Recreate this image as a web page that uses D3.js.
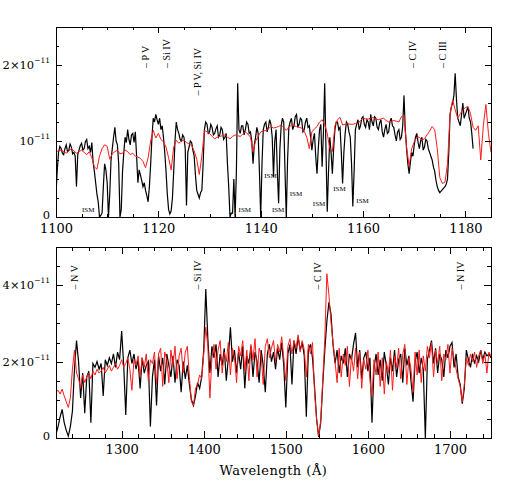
<!DOCTYPE html>
<html>
<head>
<meta charset="utf-8">
<script src="https://cdn.jsdelivr.net/npm/d3@7"></script>
<style>
  body { margin: 0; background: #fff; }
  svg { display: block; }
</style>
</head>
<body>
<div id="chart"></div>
<script>
// fluxes are in units of 1e-11, wavelengths in Angstrom
const topObsStart = 1100, topObsStep = 0.25
const topObs = [
  0.30,0.62,0.85,0.93,0.90,0.84,0.82,0.90,0.95,0.86,0.88,0.96,0.92,0.83,0.85,0.80,0.40,0.82,0.88,0.94,
  0.97,0.88,0.90,0.99,1.02,0.90,0.93,0.85,0.98,0.72,0.60,0.45,0.30,0.20,0.00,0.02,0.05,0.40,0.70,0.62,
  0.45,0.00,0.30,0.75,0.90,1.05,1.18,1.00,0.95,0.70,0.00,0.10,0.60,0.85,1.05,0.98,1.15,1.02,0.95,1.08,
  1.10,0.98,1.12,0.80,0.45,0.62,0.55,0.48,0.40,0.45,0.35,0.28,0.20,0.40,0.70,1.05,1.30,1.25,1.35,1.28,
  1.22,1.30,1.15,1.20,1.05,0.85,0.60,0.30,0.10,0.04,0.08,0.25,0.60,1.00,1.25,1.15,1.10,1.02,1.00,1.08,
  1.05,0.90,0.15,0.85,0.92,1.00,0.98,0.88,0.80,0.55,0.35,0.30,0.25,0.32,0.35,0.70,1.15,1.25,1.22,1.10,
  1.12,1.22,1.18,1.08,1.10,1.16,1.20,1.05,1.08,1.18,1.15,1.02,1.05,1.10,0.70,0.40,0.00,0.05,0.05,0.50,
  0.00,0.60,1.76,1.15,1.10,1.20,1.20,1.08,1.15,1.25,1.22,1.10,1.12,1.00,0.70,0.95,1.05,1.18,1.10,0.60,
  0.00,0.70,1.15,1.22,1.25,1.12,1.18,1.28,1.22,1.05,0.53,1.00,1.15,0.60,0.18,0.90,1.20,1.30,1.25,0.60,
  0.00,0.75,1.18,1.25,1.30,1.15,1.20,1.32,1.35,1.18,1.22,1.30,1.28,1.12,1.15,1.25,1.30,1.18,1.20,1.05,
  0.88,1.02,1.10,0.80,0.57,0.90,1.15,1.22,0.66,1.10,1.76,0.90,0.07,0.60,1.05,0.85,0.57,0.90,1.15,1.25,
  1.25,1.15,1.18,0.85,0.44,0.85,1.10,1.25,1.22,1.12,1.05,0.70,0.14,0.60,1.15,1.22,1.28,1.15,1.20,1.30,
  1.32,1.22,1.18,1.28,1.25,1.15,1.35,1.25,1.20,1.32,1.30,1.18,1.15,1.24,1.28,1.12,1.05,1.15,1.22,1.10,
  1.12,1.25,1.30,1.20,1.18,1.08,1.00,1.12,1.15,1.02,1.05,1.20,1.60,1.15,0.90,0.70,0.57,0.72,0.85,0.80,
  0.95,1.05,1.10,0.98,0.90,1.00,1.05,0.88,0.92,1.02,1.00,0.90,0.85,0.80,0.75,0.66,0.60,0.48,0.40,0.35,
  0.32,0.34,0.36,0.38,0.40,0.43,0.50,0.85,1.35,1.45,1.50,1.60,1.89,1.55,1.30,1.25,1.20,1.35,1.50,1.30,
  1.35,1.40,1.45,1.30,1.25,1.10,0.90
]
const topModelStart = 1100, topModelStep = 0.5
const topModel = [
  0.86,0.87,0.88,0.86,0.84,0.87,0.90,0.87,0.84,0.86,
  0.88,0.85,0.82,0.86,0.78,0.66,0.63,0.80,0.90,0.95,
  0.93,0.76,0.83,0.86,0.88,0.83,0.84,0.88,0.86,0.82,
  0.84,0.80,0.79,0.77,0.73,0.65,0.78,1.00,1.14,1.04,
  1.10,1.02,0.99,0.92,0.78,0.62,0.92,1.01,0.97,1.00,
  1.01,0.98,0.96,0.94,0.87,0.76,0.56,0.80,1.14,1.12,
  1.10,1.06,1.03,1.05,1.06,1.07,1.08,1.05,1.03,1.06,
  1.08,1.07,1.06,1.09,1.12,1.09,1.05,0.86,1.00,1.06,
  1.12,1.13,1.14,1.16,1.19,1.17,1.18,1.19,1.21,1.18,
  1.14,1.18,1.21,1.20,1.19,1.18,1.17,1.13,1.05,0.90,
  1.12,1.16,1.19,1.25,1.28,1.22,1.10,0.90,0.86,1.20,
  1.28,1.31,1.21,1.22,1.23,1.22,1.22,1.23,1.23,1.27,
  1.30,1.29,1.29,1.30,1.31,1.29,1.28,1.29,1.30,1.27,
  1.25,1.26,1.27,1.26,1.25,1.32,1.34,0.92,0.67,0.90,
  0.99,1.05,1.05,1.01,1.03,1.08,1.13,1.19,1.15,0.90,
  0.52,0.44,0.46,0.70,1.35,1.54,1.41,1.30,1.36,1.41,
  1.44,1.45,1.36,1.18,1.14,1.20,0.75,1.20,1.48,1.10,
  0.85
]

const botStart = 1220, botStep = 2.5
const botObs = [
  0.10,0.30,0.55,0.75,0.40,0.20,0.05,0.30,0.70,1.80,
  2.55,2.00,1.05,1.70,0.65,1.60,1.75,0.40,1.95,1.85,
  2.00,1.80,1.95,1.10,2.05,1.90,2.10,1.95,2.20,1.85,
  2.25,2.05,2.80,1.90,0.60,2.10,2.30,1.95,2.20,1.80,
  2.05,1.30,2.10,1.70,1.90,2.00,0.30,1.60,2.05,0.85,
  2.15,1.75,2.10,1.40,2.20,1.90,1.60,2.15,1.45,2.05,
  1.90,1.20,2.00,1.55,1.90,1.40,1.00,0.85,1.10,1.45,
  1.30,1.60,2.30,3.90,2.60,1.70,2.40,2.10,2.45,1.60,
  2.20,1.90,2.35,1.50,2.10,2.90,2.00,2.30,1.70,2.25,
  1.80,2.40,1.30,2.15,1.95,2.40,1.60,2.25,2.00,1.45,
  2.30,1.90,1.20,2.20,2.45,2.00,2.25,1.80,2.35,2.05,
  2.50,1.90,0.80,2.20,2.45,1.40,2.55,2.20,2.65,2.30,
  2.50,2.15,0.56,2.30,2.45,2.10,1.35,0.50,0.03,0.40,
  1.40,2.30,3.05,3.55,3.25,2.45,1.95,2.30,1.70,2.15,
  1.95,2.35,1.60,2.20,2.05,2.45,2.75,1.85,2.30,1.55,
  2.10,2.25,1.75,2.10,0.40,1.85,2.20,1.65,2.05,1.50,
  2.25,1.90,1.40,2.10,1.75,2.30,1.60,2.05,2.20,1.45,
  2.35,1.90,2.15,1.50,0.95,2.00,2.25,1.70,2.10,1.80,
  0.00,2.05,2.30,2.55,1.95,2.35,1.70,2.20,2.05,1.60,
  2.30,2.10,2.40,2.50,1.85,2.20,1.60,1.40,0.90,1.30,
  2.30,2.05,1.85,2.20,1.95,2.15,2.00,2.30,2.05,2.25,
  2.15,2.20,2.10
]
const botModel = [
  1.20,1.25,1.15,1.28,1.10,0.95,0.80,1.05,1.80,2.30,
  1.70,1.55,1.30,1.65,1.45,1.60,1.70,1.55,1.75,1.65,
  1.80,1.70,1.75,1.85,1.70,1.80,1.90,1.75,1.85,1.95,
  1.80,1.90,2.05,1.85,1.95,2.10,1.80,1.25,2.05,1.90,
  2.15,1.60,2.10,1.85,2.20,1.50,2.05,1.95,2.25,1.40,
  2.20,2.35,1.35,2.25,2.05,1.45,2.30,1.90,2.40,1.55,
  2.15,2.35,1.70,2.25,2.40,1.60,0.95,0.85,1.30,1.40,
  1.65,1.55,2.20,2.90,2.40,1.05,2.10,2.45,1.80,2.30,
  2.55,1.70,2.25,2.00,2.50,1.65,2.35,2.10,1.45,2.40,
  2.15,2.55,1.75,2.30,1.50,2.45,2.05,2.60,1.60,2.35,
  2.15,1.40,2.40,2.60,2.10,2.35,2.55,2.00,2.45,2.25,
  2.65,2.10,1.50,2.40,2.60,2.20,2.55,2.35,2.70,2.25,
  2.55,2.30,1.60,2.45,2.20,2.50,1.20,0.50,0.05,0.45,
  1.50,2.60,4.30,3.75,3.05,2.50,2.00,1.45,2.35,1.60,
  2.20,1.90,2.40,1.35,2.15,1.75,2.35,1.55,2.25,1.30,
  2.05,1.80,2.30,1.50,1.10,2.05,1.65,2.25,1.35,2.10,
  1.15,2.00,1.70,2.30,1.25,2.15,1.85,2.35,1.55,2.20,
  2.45,1.40,2.10,1.80,1.20,2.25,1.65,2.30,1.45,2.15,
  1.75,2.40,2.10,2.50,1.60,2.30,1.95,2.40,1.50,2.20,
  2.05,2.45,1.70,2.35,2.10,1.80,1.55,1.35,0.95,1.40,
  2.10,1.90,2.20,2.00,2.25,1.85,2.15,2.30,1.95,2.20,
  1.70,2.25,2.15
]

// axis ticks
const topXTicks = [1100, 1120, 1140, 1160, 1180]
const topXMinor = d3.range(1100, 1186, 5)
const topYTicks = [0, 1, 2]
const topYMinor = d3.range(0, 2.51, 0.25)
const botXTicks = [1300, 1400, 1500, 1600, 1700]
const botXMinor = d3.range(1220, 1751, 20)
const botYTicks = [0, 2, 4]
const botYMinor = d3.range(0, 5.01, 0.5)

// line identifications: [label, wavelength, flux at foot of label]
const topIons = [["– P V", 1117.4, 1.96], ["– Si IV", 1121.5, 1.96], ["– P V, Si IV", 1127.7, 1.60],
                 ["– C IV", 1169.7, 1.96], ["– C III", 1175.6, 1.96]]
const topISM = [[1106.3, 0.07], [1136.9, 0.07], [1141.9, 0.51], [1143.4, 0.07],
                [1146.9, 0.28], [1151.4, 0.14], [1155.4, 0.34], [1159.9, 0.18]]
const botIons = [["– N V", 1242.5, 3.89], ["– Si IV", 1392.0, 3.89], ["– C IV", 1538.7, 3.89], ["– N IV", 1713.4, 3.89]]

const svg = d3.select("#chart").append("svg")
  .attr("width", 518).attr("height", 491)
  .style("font-family", "'DejaVu Serif', serif")

function yLabel(sel, v) {
  sel.text(null)
  if (v === 0) { sel.text("0"); return }
  sel.append("tspan").text(v === 1 ? "10" : v + "×10")
  sel.append("tspan").attr("font-size", 7.5).attr("dy", -6).text("−11")
}

function panel(cfg, idx) {
  const x = d3.scaleLinear().domain(cfg.xDomain).range([56, 491])
  const y = d3.scaleLinear().domain(cfg.yDomain).range([cfg.bottom, cfg.top])
  const g = svg.append("g")

  g.append("clipPath").attr("id", "clip" + idx)
    .append("rect").attr("x", 56).attr("y", cfg.top).attr("width", 435).attr("height", cfg.bottom - cfg.top)

  const lineFor = (start, step) => d3.line()
    .x((d, i) => x(start + i * step))
    .y(d => y(d))

  const plot = g.append("g").attr("clip-path", `url(#clip${idx})`)
  plot.append("path").datum(cfg.obs)
    .attr("d", lineFor(cfg.obsStart, cfg.obsStep))
    .attr("fill", "none").attr("stroke", "#000").attr("stroke-width", 1.2)
  plot.append("path").datum(cfg.model)
    .attr("d", lineFor(cfg.modelStart, cfg.modelStep))
    .attr("fill", "none").attr("stroke", "#ff1a1a").attr("stroke-width", 1)

  // axes, ticks pointing inward on all four sides
  const ax = (a, tx, ty) => {
    const s = g.append("g").attr("transform", `translate(${tx},${ty})`).call(a)
    s.select(".domain").remove()
    s.selectAll("line").attr("stroke", "#000").attr("shape-rendering", "crispEdges")
    return s
  }
  const M = cfg.major, m = cfg.minor
  const xb = ax(d3.axisBottom(x).tickValues(cfg.xTicks).tickSize(-M).tickPadding(7).tickFormat(d3.format("d")), 0, cfg.bottom)
  xb.selectAll("text").attr("font-size", 13).attr("fill", "#000").attr("font-family", "'DejaVu Serif', serif")
  ax(d3.axisBottom(x).tickValues(cfg.xMinor).tickSize(-m).tickFormat(""), 0, cfg.bottom)
  ax(d3.axisTop(x).tickValues(cfg.xTicks).tickSize(-M).tickFormat(""), 0, cfg.top)
  ax(d3.axisTop(x).tickValues(cfg.xMinor).tickSize(-m).tickFormat(""), 0, cfg.top)
  ax(d3.axisLeft(y).tickValues(cfg.yTicks).tickSize(-M).tickFormat(""), 56, 0)
  ax(d3.axisLeft(y).tickValues(cfg.yMinor).tickSize(-m).tickFormat(""), 56, 0)
  ax(d3.axisRight(y).tickValues(cfg.yTicks).tickSize(-M).tickFormat(""), 491, 0)
  ax(d3.axisRight(y).tickValues(cfg.yMinor).tickSize(-m).tickFormat(""), 491, 0)

  g.selectAll("text.ylab").data(cfg.yTicks).enter().append("text")
    .attr("class", "ylab")
    .attr("x", 50).attr("y", d => y(d) - (d === 0 ? 2 : 0)).attr("dy", "0.35em")
    .attr("text-anchor", "end").attr("font-size", 11.5)
    .each(function (d) { yLabel(d3.select(this), d) })

  g.append("rect")
    .attr("x", 56).attr("y", cfg.top).attr("width", 435).attr("height", cfg.bottom - cfg.top)
    .attr("fill", "none").attr("stroke", "#000").attr("shape-rendering", "crispEdges")

  g.selectAll("text.ion").data(cfg.ions).enter().append("text")
    .attr("class", "ion")
    .attr("transform", d => `translate(${x(d[1])},${y(d[2])}) rotate(-90)`)
    .attr("dy", "0.35em")
    .attr("font-family", "'Liberation Serif', serif").attr("font-size", 10)
    .text(d => d[0])

  g.selectAll("text.ism").data(cfg.ism || []).enter().append("text")
    .attr("class", "ism")
    .attr("x", d => x(d[0])).attr("y", d => y(d[1]))
    .attr("text-anchor", "middle")
    .attr("font-family", "'Liberation Serif', serif").attr("font-size", 7)
    .text("ISM")
}

panel({
  xDomain: [1100, 1185], yDomain: [0, 2.5], top: 27, bottom: 217,
  obsStart: topObsStart, obsStep: topObsStep, obs: topObs,
  modelStart: topModelStart, modelStep: topModelStep, model: topModel,
  xTicks: topXTicks, xMinor: topXMinor, yTicks: topYTicks, yMinor: topYMinor,
  major: 6, minor: 3, ions: topIons, ism: topISM
}, 0)

panel({
  xDomain: [1220, 1750], yDomain: [0, 5], top: 247, bottom: 438,
  obsStart: botStart, obsStep: botStep, obs: botObs,
  modelStart: botStart, modelStep: botStep, model: botModel,
  xTicks: botXTicks, xMinor: botXMinor, yTicks: botYTicks, yMinor: botYMinor,
  major: 7, minor: 4, ions: botIons
}, 1)

svg.append("text")
  .attr("x", 273.5).attr("y", 475)
  .attr("text-anchor", "middle").attr("font-size", 13)
  .attr("letter-spacing", 0.5)
  .text("Wavelength (Å)")
</script>
</body>
</html>
